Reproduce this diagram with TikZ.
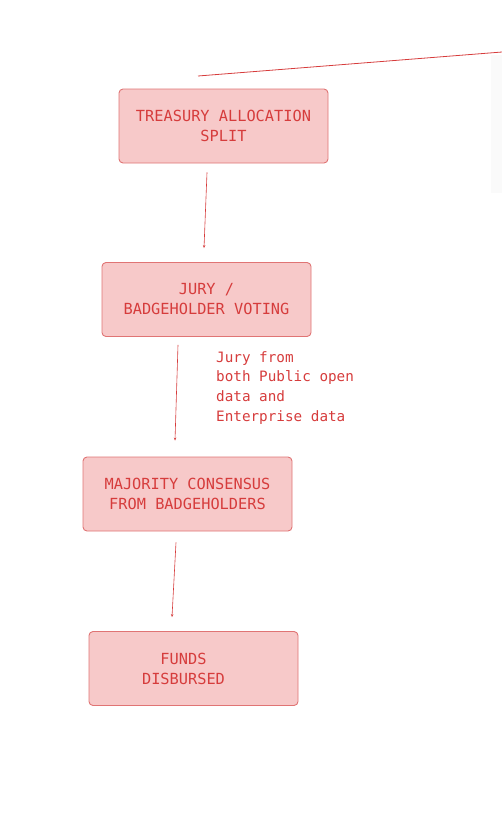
\documentclass[tikz,border=0pt]{standalone}
\usepackage{fontspec}
\setmonofont{DejaVu Sans Mono}
\usetikzlibrary{arrows.meta}

\definecolor{boxfill}{HTML}{F7C9C9}
\definecolor{boxline}{HTML}{E07474}
\definecolor{inkred}{HTML}{D63C3C}

\tikzset{
  stepbox/.style={draw=boxline, fill=boxfill, line width=0.9pt, rounded corners=4pt,
    minimum width=209pt, minimum height=74pt, align=center, text=inkred,
    font=\ttfamily\fontsize{15.3}{20}\selectfont},
  note/.style={align=left, text=inkred, inner sep=0pt,
    font=\ttfamily\fontsize{14.3}{19.7}\selectfont},
  arr/.style={draw=inkred, line width=0.6pt, -{Stealth[length=3pt,width=2.5pt]}}
}

\begin{document}
\begin{tikzpicture}[x=1pt, y=-1pt, node distance=173.5pt]
  \useasboundingbox (0,0) rectangle (502,836);
  \fill[black!2] (491,55) rectangle (502,193);
  \node[stepbox] (T) at (223.5,126) {TREASURY ALLOCATION\\SPLIT};
  \node[stepbox] (J) [below of=T, xshift=-17pt] {JURY /\\BADGEHOLDER VOTING};
  \node[stepbox] (M) [below of=J, node distance=194.5pt, xshift=-19pt] {MAJORITY CONSENSUS\\FROM BADGEHOLDERS};
  \node[stepbox] (F) [below of=M, node distance=174.5pt, xshift=6pt] {FUNDS\hspace*{20pt}\\DISBURSED\hspace*{20pt}};
  \node[note, anchor=north west] (N) at (216,351) {Jury from\\both Public open\\data and\\Enterprise data};
  \coordinate (a) at (198,76);
  \coordinate (b) at (502,52);
  \draw[draw=inkred, line width=0.8pt] (a) -- (b);
  \draw[arr] ([shift={(-16.5,9)}]T.south) -- ([shift={(-2.5,-14)}]J.north);
  \draw[arr] ([shift={(-28.5,8)}]J.south) -- ([shift={(-12.5,-16)}]M.north);
  \draw[arr] ([shift={(-11.5,11)}]M.south) -- ([shift={(-21.5,-14)}]F.north);
\end{tikzpicture}
\end{document}
